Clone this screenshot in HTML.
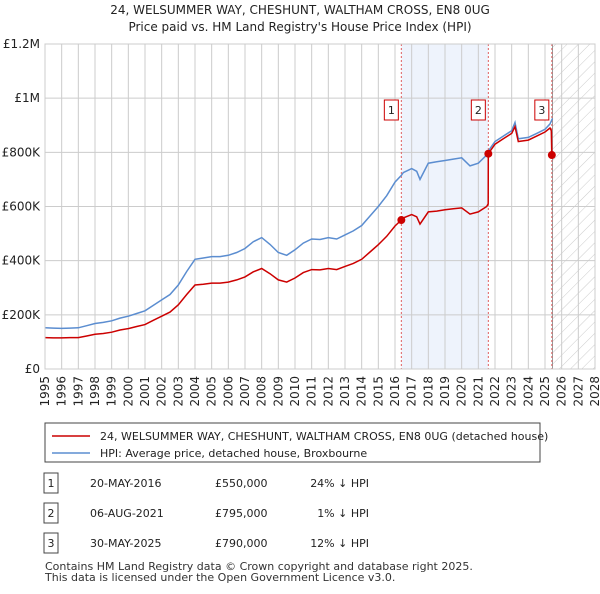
<!DOCTYPE html>
<html><head><meta charset="utf-8"><style>
body{margin:0;background:#fff;font-family:"DejaVu Sans",sans-serif;}
svg text{font-family:"DejaVu Sans",sans-serif;}
</style></head><body>
<svg id="c" width="600" height="590" xmlns="http://www.w3.org/2000/svg">
<defs><pattern id="hatch" width="8" height="8" patternUnits="userSpaceOnUse" patternTransform="rotate(45)"><line x1="0" y1="0" x2="0" y2="8" stroke="#ccc" stroke-width="1"/></pattern></defs>
<text x="300" y="14" text-anchor="middle" font-size="12" fill="#222">24, WELSUMMER WAY, CHESHUNT, WALTHAM CROSS, EN8 0UG</text>
<text x="300" y="31" text-anchor="middle" font-size="12" fill="#222">Price paid vs. HM Land Registry's House Price Index (HPI)</text>
<g id="plot"></g>
<rect x="45" y="423" width="495" height="39" fill="#fff" stroke="#444"/>
<line x1="52" y1="436" x2="90" y2="436" stroke="#cc0000" stroke-width="1.5"/>
<text x="100" y="440" font-size="11" fill="#222">24, WELSUMMER WAY, CHESHUNT, WALTHAM CROSS, EN8 0UG (detached house)</text>
<line x1="52" y1="453" x2="90" y2="453" stroke="#5b8dd0" stroke-width="1.5"/>
<text x="100" y="457" font-size="11" fill="#222">HPI: Average price, detached house, Broxbourne</text>
<g id="tbl"></g>
<text x="45" y="570" font-size="11" fill="#333">Contains HM Land Registry data © Crown copyright and database right 2025.</text>
<text x="45" y="581" font-size="11" fill="#333">This data is licensed under the Open Government Licence v3.0.</text>
</svg>
<script>
const hpiDates=[1995,1995.5,1996,1996.5,1997,1997.5,1998,1998.5,1999,1999.5,2000,2000.5,2001,2001.5,2002,2002.5,2003,2003.5,2004,2004.5,2005,2005.5,2006,2006.5,2007,2007.5,2008,2008.5,2009,2009.5,2010,2010.5,2011,2011.5,2012,2012.5,2013,2013.5,2014,2014.5,2015,2015.5,2016,2016.38,2016.5,2017,2017.3,2017.5,2018,2018.5,2019,2019.5,2020,2020.5,2021,2021.5,2021.6,2022,2022.5,2023,2023.2,2023.4,2024,2024.5,2025,2025.3,2025.45];
const hpiValues=[152,151,150,151,152,160,168,172,178,188,195,205,215,235,255,275,310,360,405,410,415,415,420,430,445,470,485,460,430,420,440,465,480,478,485,480,495,510,530,565,600,640,690,715,725,740,730,700,760,765,770,775,780,750,760,790,805,840,860,880,910,850,855,870,885,905,925];
const priceDates=[1995,1995.5,1996,1996.5,1997,1997.5,1998,1998.5,1999,1999.5,2000,2000.5,2001,2001.5,2002,2002.5,2003,2003.5,2004,2004.5,2005,2005.5,2006,2006.5,2007,2007.5,2008,2008.5,2009,2009.5,2010,2010.5,2011,2011.5,2012,2012.5,2013,2013.5,2014,2014.5,2015,2015.5,2016,2016.38,2016.5,2017,2017.3,2017.5,2018,2018.5,2019,2019.5,2020,2020.5,2021,2021.5,2021.59,2021.6,2022,2022.5,2023,2023.2,2023.4,2024,2024.5,2025,2025.3,2025.38,2025.41];
const priceValues=[116,115,115,116,116,122,128,131,136,144,149,157,164,180,195,210,237,275,310,313,317,317,321,329,340,359,371,352,329,321,336,356,367,366,371,367,379,390,405,432,459,490,528,550,558,570,562,535,580,583,588,592,595,572,580,600,610,795,830,850,870,895,840,845,860,875,890,880,790];
const saleDates=[2016.38,2021.6,2025.41];
const saleValues=[550,795,790];
const saleLabels=["1","2","3"];
const saleDateText=["20-MAY-2016","06-AUG-2021","30-MAY-2025"];
const salePriceText=["£550,000","£795,000","£790,000"];
const saleHpiText=["24% ↓ HPI","1% ↓ HPI","12% ↓ HPI"];
const yTicks=[0,200,400,600,800,1000,1200];
const yTickLabels=["£0","£200K","£400K","£600K","£800K","£1M","£1.2M"];
const xYears=[1995,1996,1997,1998,1999,2000,2001,2002,2003,2004,2005,2006,2007,2008,2009,2010,2011,2012,2013,2014,2015,2016,2017,2018,2019,2020,2021,2022,2023,2024,2025,2026,2027,2028];

const NS="http://www.w3.org/2000/svg";
const L=45,R=595,T=44,B=369;
const xs=d=>L+(d-1995)/(2028-1995)*(R-L);
const ys=v=>B-v/1200*(B-T);
const g=document.getElementById('plot');
function mk(tag,attrs,parent){const e=document.createElementNS(NS,tag);for(const k in attrs)e.setAttribute(k,attrs[k]);(parent||g).appendChild(e);return e;}

let e=mk('rect',{x:xs(saleDates[0]),y:T,width:xs(saleDates[1])-xs(saleDates[0]),height:B-T,fill:'#eef3fc'});


e=mk('rect',{x:xs(2025.45),y:T,width:R-xs(2025.45),height:B-T,fill:'url(#hatch)'});


xYears.forEach(y=>{e=mk('line',{x1:xs(y),x2:xs(y),y1:T,y2:B,stroke:'#ccc','stroke-width':1});


const tx=xs(y)+4,ty=B+7;
e=mk('text',{x:tx,y:ty,'text-anchor':'end','font-size':12,fill:'#222',transform:`rotate(-90 ${tx} ${ty})`});e.textContent=y;

});
yTicks.forEach((v,i)=>{e=mk('line',{x1:L,x2:R,y1:ys(v),y2:ys(v),stroke:'#ccc','stroke-width':1});


e=mk('text',{x:L-5,y:ys(v)+4,'text-anchor':'end','font-size':12,fill:'#222'});e.textContent=yTickLabels[i];

});
e=mk('line',{x1:xs(2025.45),x2:xs(2025.45),y1:T,y2:B,stroke:'#999','stroke-width':1});


saleDates.forEach((d,i)=>{e=mk('line',{x1:xs(d),x2:xs(d),y1:T,y2:B,stroke:'#e06060','stroke-width':1,'stroke-dasharray':'2,2'});

});
const path=(ds,vs)=>ds.map((d,i)=>(i?'L':'M')+xs(d).toFixed(1)+','+ys(vs[i]).toFixed(1)).join('');
e=mk('path',{d:path(hpiDates,hpiValues),fill:'none',stroke:'#5b8dd0','stroke-width':1.5});


e=mk('path',{d:path(priceDates,priceValues),fill:'none',stroke:'#cc0000','stroke-width':1.5});


saleDates.forEach((d,i)=>{e=mk('circle',{cx:xs(d),cy:ys(saleValues[i]),r:4,fill:'#cc0000'});


e=mk('rect',{x:xs(d)-17,y:100,width:14,height:20,fill:'#fff',stroke:'#cc0000'});


e=mk('text',{x:xs(d)-10,y:114,'text-anchor':'middle','font-size':11,fill:'#222'});e.textContent=saleLabels[i];

});
e=mk('rect',{x:L,y:T,width:R-L,height:B-T,fill:'none',stroke:'#ccc'});



const t=document.getElementById('tbl');
saleDates.forEach((d,i)=>{const y=483+i*30;
e=mk('rect',{x:44,y:y-10,width:14,height:20,fill:'#fff',stroke:'#444'},t);


e=mk('text',{x:51,y:y+4,'text-anchor':'middle','font-size':11,fill:'#222'},t);e.textContent=saleLabels[i];


e=mk('text',{x:90,y:y+4,'font-size':11,fill:'#222'},t);e.textContent=saleDateText[i];


e=mk('text',{x:215,y:y+4,'font-size':11,fill:'#222'},t);e.textContent=salePriceText[i];


e=mk('text',{x:369,y:y+4,'text-anchor':'end','font-size':11,fill:'#222'},t);e.textContent=saleHpiText[i];

});
</script>
</body></html>
